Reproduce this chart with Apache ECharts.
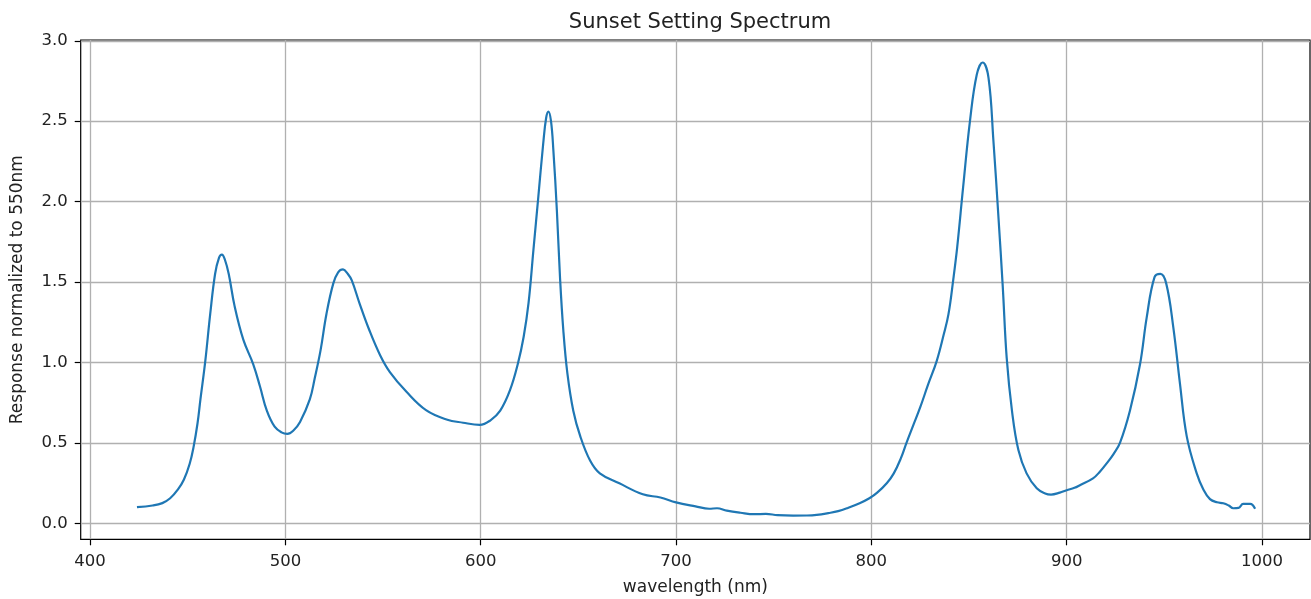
<!DOCTYPE html>
<html>
<head>
<meta charset="utf-8">
<script src="https://cdn.jsdelivr.net/npm/echarts@6/dist/echarts.min.js"></script>
<style>html,body{margin:0;padding:0;background:#fff}#c{width:1311px;height:599px}</style>
</head>
<body>
<div id="c"></div>
<script>
const wavelength = [424,432,437,441,445,448,451,453,455,456.5,459,461.5,464,466,467.5,469,471,474,478.5,483.5,487,490.5,494.5,498,501,504,507.5,512.5,515,518,521,524.5,527,529.5,532,534,538,543,548.5,553.5,562,572,582.5,591,599.5,605,610,615,619,622,624.5,627,629.5,632,633.5,634.7,636,637.2,639,640.6,642.3,644.4,647.4,651,656,661,671,683,692,700,710,717,721,726,733,740,746,752,760,767,772,778,783,788,794,799,803,808,811.5,815,818,821.5,825,829,833.5,837,839.5,842,844,847,850.5,854,857,860,862.5,865,867.3,869.3,872,875.3,879.5,884.7,889,892,896.5,900,904,907,913.5,917,920.5,924,927.3,932.4,937.6,941,945,948,951,954.6,958,961.5,966.6,970,973.4,977,980.2,983,985.3,988,990.4,994,996.5];
const response = [0.10,0.11,0.125,0.155,0.21,0.27,0.37,0.475,0.62,0.77,1.01,1.30,1.55,1.65,1.67,1.64,1.55,1.35,1.14,0.99,0.85,0.70,0.60,0.565,0.555,0.575,0.63,0.77,0.90,1.075,1.30,1.49,1.56,1.578,1.55,1.51,1.366,1.20,1.045,0.94,0.817,0.703,0.645,0.625,0.612,0.64,0.70,0.827,0.99,1.16,1.37,1.70,2.03,2.36,2.52,2.56,2.50,2.32,1.945,1.53,1.20,0.93,0.70,0.54,0.39,0.31,0.248,0.18,0.16,0.13,0.105,0.09,0.093,0.078,0.065,0.056,0.058,0.05,0.047,0.048,0.052,0.063,0.075,0.095,0.124,0.155,0.19,0.25,0.31,0.40,0.50,0.61,0.72,0.86,1.01,1.17,1.30,1.52,1.72,2.09,2.50,2.79,2.865,2.77,2.38,1.92,1.47,1.03,0.70,0.455,0.31,0.217,0.185,0.178,0.19,0.205,0.22,0.238,0.279,0.32,0.372,0.43,0.50,0.70,0.99,1.28,1.53,1.55,1.49,1.22,0.87,0.54,0.31,0.21,0.15,0.13,0.124,0.11,0.093,0.095,0.12,0.12,0.09];
const xTicks = [400,500,600,700,800,900,1000];
const yTicks = [0,0.5,1,1.5,2,2.5,3];

const chart = echarts.init(document.getElementById('c'));
const font = 'DejaVu Sans';
const pts = wavelength.map((w,i)=>[w,response[i]]);
chart.setOption({
  animation:false,
  title:{text:'Sunset Setting Spectrum',left:695,textAlign:'center',top:7,
    textStyle:{fontFamily:font,fontSize:21,fontWeight:'normal',color:'#222'}},
  grid:{left:80.7,right:1,top:40,bottom:59.7,show:true,borderColor:'#000',borderWidth:1.2,
    containLabel:false,outerBoundsMode:'none'},
  xAxis:{type:'value',min:395.2,max:1024.6,
    name:'wavelength (nm)',nameLocation:'middle',nameGap:40,
    nameTextStyle:{fontFamily:font,fontSize:17,color:'#222'},
    axisLine:{show:false,onZero:false},
    axisTick:{show:true,inside:false,length:6,lineStyle:{color:'#000',width:1.2},customValues:xTicks},
    axisLabel:{fontFamily:font,fontSize:16.5,color:'#222',margin:14,customValues:xTicks,
      formatter:v=>String(v)},
    splitLine:{show:true,lineStyle:{color:'#b0b0b0',width:1.3}}},
  yAxis:{type:'value',min:-0.1,max:3.005,
    name:'Response normalized to 550nm',nameLocation:'middle',nameGap:55,
    nameTextStyle:{fontFamily:font,fontSize:17,color:'#222'},
    axisLine:{show:false,onZero:false},
    axisTick:{show:true,inside:false,length:6,lineStyle:{color:'#000',width:1.2},customValues:yTicks},
    axisLabel:{fontFamily:font,fontSize:16.5,color:'#222',margin:13,customValues:yTicks,
      formatter:v=>v.toFixed(1)},
    splitLine:{show:true,lineStyle:{color:'#b0b0b0',width:1.3}}},
  series:[{type:'line',data:pts,showSymbol:false,smooth:0.4,
    lineStyle:{color:'#1f77b4',width:2.2},silent:true}]
});
</script>
</body>
</html>
